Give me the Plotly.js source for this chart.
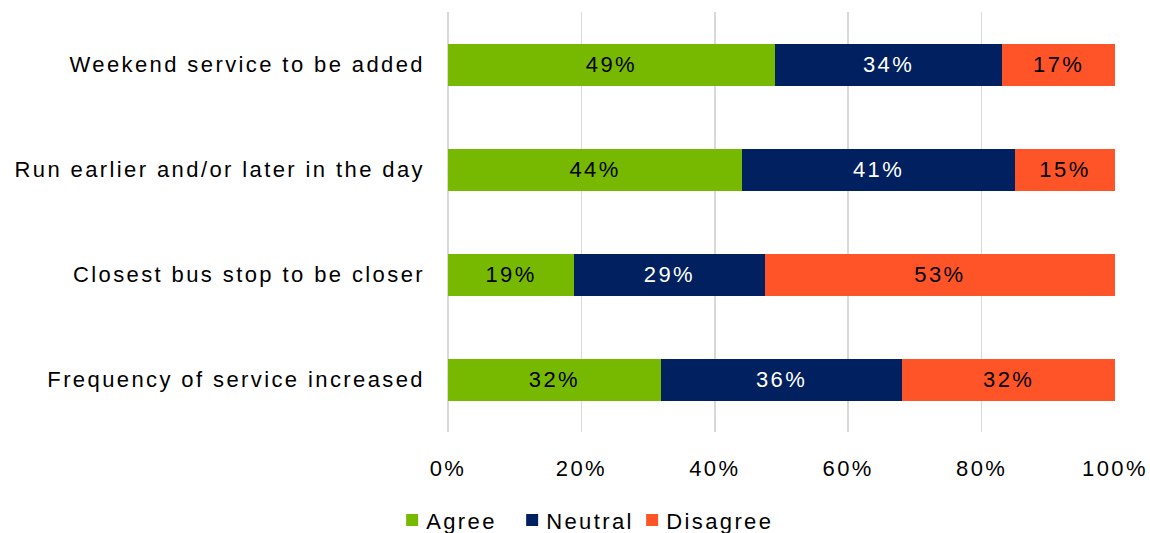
<!DOCTYPE html>
<html><head><meta charset="utf-8">
<script src="https://cdn.plot.ly/plotly-3.0.1.min.js"></script>
<style>
body{margin:0;background:#fff}
#chart svg text{letter-spacing:2.4px}
#chart .legend, #chart .legend *{clip-path:none !important}
#chart .legend .legendtext{transform:translateX(-6px)}
</style>
</head><body>
<div id="chart" style="width:1150px;height:533px"></div>
<script>
const categories = ["Weekend service to be added","Run earlier and/or later in the day","Closest bus stop to be closer","Frequency of service increased"];
const agree = [49.0, 44.1, 18.9, 31.9];
const neutral = [34.1, 40.9, 28.6, 36.2];
const disagree = [16.9, 15.0, 52.5, 31.9];
const labelsAgree = ["49%","44%","19%","32%"];
const labelsNeutral = ["34%","41%","29%","36%"];
const labelsDisagree = ["17%","15%","53%","32%"];
const tickVals = [0,20,40,60,80,100];
const tickText = ["0%","20%","40%","60%","80%","100%"];

const FONT = "Liberation Sans, Arial, sans-serif";
const FS = 22;
function tr(name, vals, labels, color, txtColor){
  return {type:'bar', orientation:'h', name:name, y:categories, x:vals, text:labels,
    textposition:'inside', insidetextanchor:'middle', textangle:0,
    textfont:{family:FONT,size:FS,color:txtColor}, marker:{color:color, line:{width:0}},
    width:0.4, hoverinfo:'skip', cliponaxis:false, constraintext:'none'};
}
const data = [
  tr('Agree', agree, labelsAgree, '#77B900', '#000000'),
  tr('Neutral', neutral, labelsNeutral, '#002060', '#ffffff'),
  tr('Disagree', disagree, labelsDisagree, '#FF5328', '#000000')
];
const layout = {
  width:1150, height:533, barmode:'stack', bargap:0.6,
  margin:{l:448, r:34, t:12, b:101},
  paper_bgcolor:'#fff', plot_bgcolor:'#fff',
  font:{family:FONT, size:FS, color:'#000'},
  xaxis:{range:[0,100.15], tickvals:tickVals, ticktext:tickText, showgrid:true, gridcolor:'#d9d9d9', gridwidth:1.5,
    zeroline:true, zerolinecolor:'#d9d9d9', zerolinewidth:1.5, showline:false, ticks:'', ticklabelstandoff:21,
    tickfont:{family:FONT,size:FS,color:'#000'}, fixedrange:true, automargin:false},
  yaxis:{categoryorder:'array', categoryarray:categories.slice().reverse(), showgrid:false, zeroline:false, showline:false, ticks:'',
    ticklabelstandoff:22, tickfont:{family:FONT,size:FS,color:'#000'}, fixedrange:true, automargin:false},
  showlegend:true,
  legend:{orientation:'h', x:0.341, xref:'container', xanchor:'left', y:0.024, yref:'container', yanchor:'middle',
    font:{family:FONT,size:FS,color:'#000'}, traceorder:'normal', itemwidth:30, entrywidth:75, entrywidthmode:'pixels'},
};
Plotly.newPlot('chart', data, layout, {displayModeBar:false, staticPlot:true});
</script>
</body></html>
